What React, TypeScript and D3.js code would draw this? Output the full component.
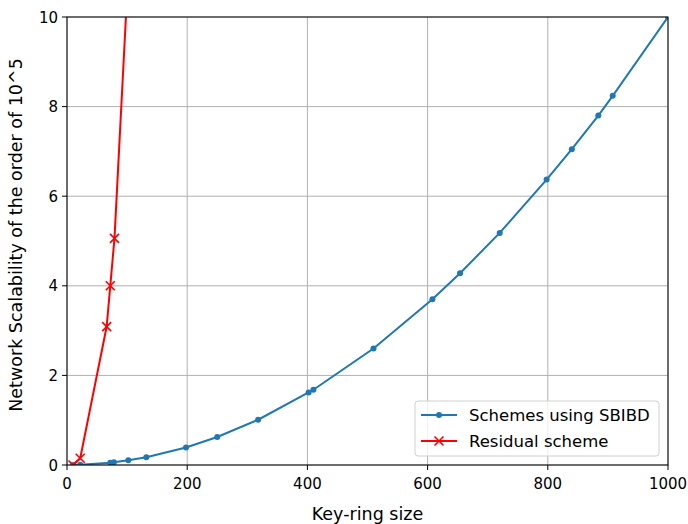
import * as d3 from 'd3';

// Key-ring size vs network scalability (units of 10^5)
const sbibdX = [10, 22, 72, 78, 102, 132, 198, 250, 318, 402, 410, 510, 608, 654, 720, 798, 840, 884, 908, 1000];
const sbibdY = [0.0, 0.005, 0.052, 0.06, 0.104, 0.174, 0.39, 0.625, 1.01, 1.62, 1.68, 2.6, 3.7, 4.28, 5.18, 6.37, 7.05, 7.8, 8.24, 10.0];

const residualX = [10, 22, 66, 72, 79, 110];
const residualY = [0.0, 0.15, 3.09, 4.0, 5.06, 13.1];

const xTicks = [0, 200, 400, 600, 800, 1000];
const yTicks = [0, 2, 4, 6, 8, 10];

const legendItems = ['Schemes using SBIBD', 'Residual scheme'];

export default function App() {
  const width = 688;
  const height = 524;
  const margin = { top: 17, right: 20, bottom: 59, left: 67 };
  const innerWidth = width - margin.left - margin.right;
  const innerHeight = height - margin.top - margin.bottom;

  const x = d3.scaleLinear().domain([0, 1000]).range([0, innerWidth]);
  const y = d3.scaleLinear().domain([0, 10]).range([innerHeight, 0]);

  const sbibd = sbibdX.map((v, i) => [v, sbibdY[i]] as [number, number]);
  const residual = residualX.map((v, i) => [v, residualY[i]] as [number, number]);

  const line = d3
    .line<[number, number]>()
    .x((d) => x(d[0]))
    .y((d) => y(d[1]));

  const blue = '#1f77b4';
  const red = '#ff0000';
  const font = 'DejaVu Sans, sans-serif';

  const xMark = (cx: number, cy: number, s: number, key?: string) => (
    <path
      key={key}
      d={`M${cx - s},${cy - s}L${cx + s},${cy + s}M${cx - s},${cy + s}L${cx + s},${cy - s}`}
      stroke={red}
      strokeWidth={1.6}
      fill="none"
    />
  );

  return (
    <svg
      width={width}
      height={height}
      style={{ position: 'absolute', left: 0, top: 0, background: '#fff' }}
      fontFamily={font}
    >
      <defs>
        <clipPath id="plot-clip">
          <rect x={0} y={0} width={innerWidth} height={innerHeight} />
        </clipPath>
      </defs>
      <g transform={`translate(${margin.left},${margin.top})`}>
        {xTicks.map((t) => (
          <line key={`gx${t}`} x1={x(t)} x2={x(t)} y1={0} y2={innerHeight} stroke="#b0b0b0" strokeWidth={1} />
        ))}
        {yTicks.map((t) => (
          <line key={`gy${t}`} x1={0} x2={innerWidth} y1={y(t)} y2={y(t)} stroke="#b0b0b0" strokeWidth={1} />
        ))}

        <g clipPath="url(#plot-clip)">
          <path d={line(sbibd) ?? ''} fill="none" stroke={blue} strokeWidth={2} />
          {sbibd.map((d, i) => (
            <circle key={`b${i}`} cx={x(d[0])} cy={y(d[1])} r={3} fill={blue} />
          ))}
          <path d={line(residual) ?? ''} fill="none" stroke={red} strokeWidth={2} />
          {residual.map((d, i) => xMark(x(d[0]), y(d[1]), 4.5, `r${i}`))}
        </g>

        <rect x={0} y={0} width={innerWidth} height={innerHeight} fill="none" stroke="#000" strokeWidth={1} />

        {xTicks.map((t) => (
          <g key={`tx${t}`} transform={`translate(${x(t)},${innerHeight})`}>
            <line y1={0} y2={5} stroke="#000" />
            <text y={24} textAnchor="middle" fontSize={15} fill="#000">
              {t}
            </text>
          </g>
        ))}
        {yTicks.map((t) => (
          <g key={`ty${t}`} transform={`translate(0,${y(t)})`}>
            <line x1={-5} x2={0} stroke="#000" />
            <text x={-9} y={5.5} textAnchor="end" fontSize={15} fill="#000">
              {t}
            </text>
          </g>
        ))}

        <text x={innerWidth / 2} y={innerHeight + 55} textAnchor="middle" fontSize={17.5} fill="#000">
          Key-ring size
        </text>
        <text
          transform={`translate(${-45},${innerHeight / 2 - 6}) rotate(-90)`}
          textAnchor="middle"
          fontSize={17.5}
          fill="#000"
        >
          Network Scalability of the order of 10^5
        </text>

        <g transform={`translate(${348},${384})`}>
          <rect x={0} y={0} width={244} height={55} rx={3} fill="#fff" fillOpacity={0.8} stroke="#d0d0d0" />
          {legendItems.map((label, i) => {
            const ly = 14 + i * 26;
            return (
              <g key={label}>
                <line x1={6} x2={42} y1={ly} y2={ly} stroke={i === 0 ? blue : red} strokeWidth={2} />
                {i === 0 ? <circle cx={24} cy={ly} r={3} fill={blue} /> : xMark(24, ly, 4.5)}
                <text x={54} y={ly + 6} fontSize={16.5} fill="#000">
                  {label}
                </text>
              </g>
            );
          })}
        </g>
      </g>
    </svg>
  );
}
